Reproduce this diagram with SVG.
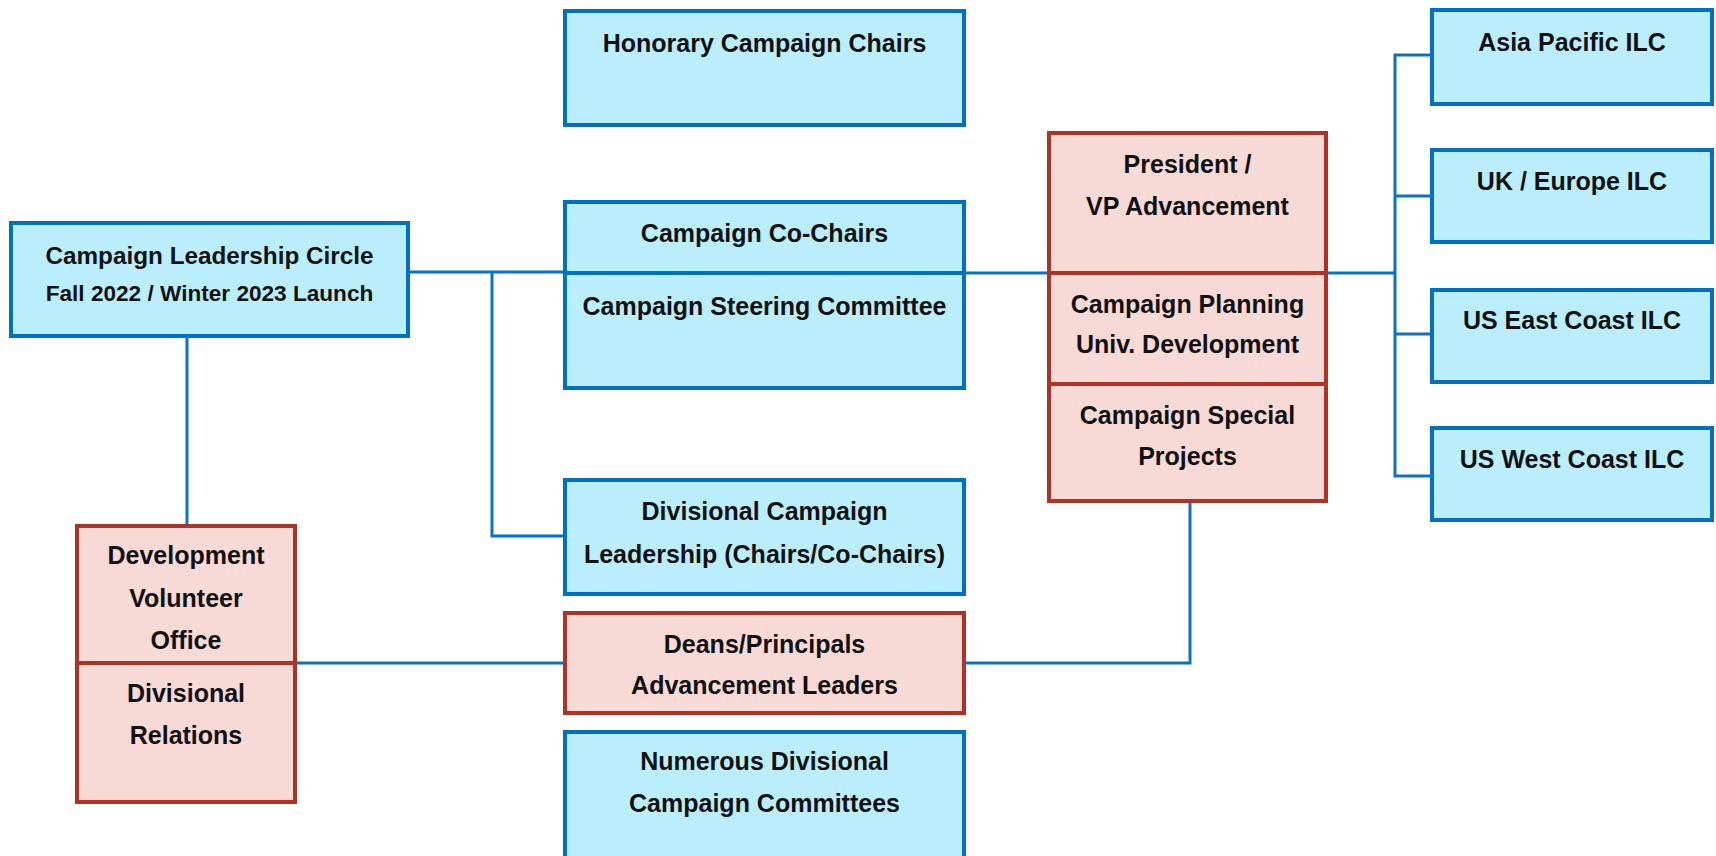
<svg xmlns="http://www.w3.org/2000/svg" width="1716" height="856" viewBox="0 0 1716 856">
  <style>
    .blue { fill: #BAEEFC; stroke: #0070C0; stroke-width: 4; }
    .red { fill: #F7D9D5; stroke: #B03222; stroke-width: 4; }
    .div-blue { stroke: #0070C0; stroke-width: 4; }
    .div-red { stroke: #B03222; stroke-width: 4; }
    .link { fill: none; stroke: #0A72C2; stroke-width: 3; }
    text { font-family: "Liberation Sans", Arial, sans-serif; font-weight: bold; font-size: 25px; fill: #111; text-anchor: middle; }
    text.l1 { font-size: 24.3px; }
    text.l2 { font-size: 22.6px; }
  </style>

  <rect width="1716" height="856" fill="#FFFFFF"/>

  <!-- connectors -->
  <g id="connectors">
    <path class="link" d="M409,272 H565"/>
    <path class="link" d="M492,272 V536 H565"/>
    <path class="link" d="M187,336 V526"/>
    <path class="link" d="M297,663 H565"/>
    <path class="link" d="M964,273 H1049"/>
    <path class="link" d="M1326,273 H1395"/>
    <path class="link" d="M1432,55 H1395 V476 H1432"/>
    <path class="link" d="M1395,196 H1432"/>
    <path class="link" d="M1395,334 H1432"/>
    <path class="link" d="M1190,501 V663 H964"/>
  </g>

  <g id="leadership-circle">
    <rect class="blue" x="11" y="223" width="397" height="113"/>
    <text class="l1" x="209.5" y="264">Campaign Leadership Circle</text>
    <text class="l2" x="209.5" y="301">Fall 2022 / Winter 2023 Launch</text>
  </g>

  <g id="honorary-chairs">
    <rect class="blue" x="565" y="11" width="399" height="114"/>
    <text x="764.5" y="52">Honorary Campaign Chairs</text>
  </g>

  <g id="co-chairs-steering">
    <rect class="blue" x="565" y="202" width="399" height="186"/>
    <line class="div-blue" x1="565" y1="273" x2="964" y2="273"/>
    <text x="764.5" y="242">Campaign Co-Chairs</text>
    <text x="764.5" y="315">Campaign Steering Committee</text>
  </g>

  <g id="divisional-leadership">
    <rect class="blue" x="565" y="480" width="399" height="114"/>
    <text x="764.5" y="520">Divisional Campaign</text>
    <text x="764.5" y="563">Leadership (Chairs/Co-Chairs)</text>
  </g>

  <g id="deans-principals">
    <rect class="red" x="565" y="613" width="399" height="100"/>
    <text x="764.5" y="653">Deans/Principals</text>
    <text x="764.5" y="694">Advancement Leaders</text>
  </g>

  <g id="divisional-committees">
    <rect class="blue" x="565" y="732" width="399" height="140"/>
    <text x="764.5" y="770">Numerous Divisional</text>
    <text x="764.5" y="812">Campaign Committees</text>
  </g>

  <g id="president-vp">
    <rect class="red" x="1049" y="133" width="277" height="368"/>
    <line class="div-red" x1="1049" y1="273" x2="1326" y2="273"/>
    <line class="div-red" x1="1049" y1="384" x2="1326" y2="384"/>
    <text x="1187.5" y="173">President /</text>
    <text x="1187.5" y="215">VP Advancement</text>
    <text x="1187.5" y="313">Campaign Planning</text>
    <text x="1187.5" y="353">Univ. Development</text>
    <text x="1187.5" y="424">Campaign Special</text>
    <text x="1187.5" y="465">Projects</text>
  </g>

  <g id="development-volunteer">
    <rect class="red" x="77" y="526" width="218" height="276"/>
    <line class="div-red" x1="77" y1="663" x2="295" y2="663"/>
    <text x="186" y="564">Development</text>
    <text x="186" y="607">Volunteer</text>
    <text x="186" y="649">Office</text>
    <text x="186" y="702">Divisional</text>
    <text x="186" y="744">Relations</text>
  </g>

  <g id="ilc-asia-pacific">
    <rect class="blue" x="1432" y="10" width="280" height="94"/>
    <text x="1572" y="51">Asia Pacific ILC</text>
  </g>
  <g id="ilc-uk-europe">
    <rect class="blue" x="1432" y="150" width="280" height="92"/>
    <text x="1572" y="190">UK / Europe ILC</text>
  </g>
  <g id="ilc-us-east">
    <rect class="blue" x="1432" y="290" width="280" height="92"/>
    <text x="1572" y="329">US East Coast ILC</text>
  </g>
  <g id="ilc-us-west">
    <rect class="blue" x="1432" y="428" width="280" height="92"/>
    <text x="1572" y="468">US West Coast ILC</text>
  </g>
</svg>
